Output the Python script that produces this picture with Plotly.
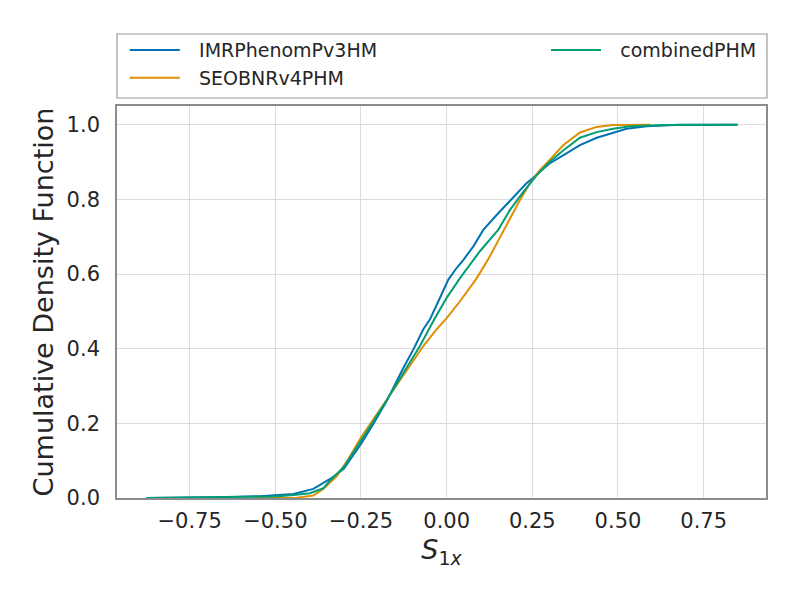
import plotly.graph_objects as go

# ----------------------------------------------------------
# CDF values
# ----------------------------------------------------------

imr_x = [-0.876, -0.75, -0.64, -0.544, -0.496, -0.447, -0.389, -0.34,
         -0.30, -0.25, -0.214, -0.175, -0.126, -0.097, -0.068, -0.049, -0.015,
         0.005, 0.029, 0.049, 0.078, 0.107, 0.146, 0.195, 0.233, 0.25, 0.272, 0.30,
         0.34, 0.389, 0.438, 0.486, 0.525, 0.584, 0.68, 0.849]
imr_cdf = [0.0, 0.001, 0.003, 0.005, 0.007, 0.011, 0.0245, 0.051,
           0.078, 0.145, 0.198, 0.26, 0.349, 0.398, 0.452, 0.478, 0.545,
           0.585, 0.616, 0.638, 0.674, 0.718, 0.758, 0.807, 0.843, 0.856, 0.874, 0.896,
           0.918, 0.945, 0.965, 0.978, 0.989, 0.996, 1.0, 1.0]

seob_x = [-0.56, -0.437, -0.389, -0.36, -0.321, -0.29, -0.25, -0.214, -0.175,
          -0.112, -0.068, -0.029, 0.0, 0.039, 0.088, 0.126, 0.15, 0.175, 0.214,
          0.243, 0.272, 0.30, 0.34, 0.389, 0.4375, 0.486, 0.594]
seob_cdf = [0.0, 0.001, 0.0067, 0.024, 0.058, 0.10, 0.162, 0.211, 0.264,
            0.349, 0.407, 0.452, 0.482, 0.527, 0.589, 0.647, 0.688, 0.732, 0.798,
            0.843, 0.878, 0.905, 0.945, 0.979, 0.994, 0.999, 1.0]

comb_x = [-0.876, -0.7, -0.6, -0.5, -0.447, -0.399, -0.36, -0.34, -0.30,
          -0.25, -0.214, -0.175, -0.117, -0.078, -0.034, 0.0, 0.039, 0.097,
          0.151, 0.185, 0.224, 0.263, 0.30, 0.34, 0.389, 0.4375, 0.486,
          0.535, 0.633, 0.849]
comb_cdf = [0.0, 0.001, 0.002, 0.004, 0.008, 0.013, 0.026, 0.047, 0.083,
            0.153, 0.205, 0.262, 0.349, 0.407, 0.482, 0.536, 0.589, 0.661,
            0.719, 0.772, 0.82, 0.865, 0.90, 0.931, 0.965, 0.980, 0.989,
            0.996, 0.999, 1.0]

x_ticks = [-0.75, -0.5, -0.25, 0.0, 0.25, 0.5, 0.75]
y_ticks = [0.0, 0.2, 0.4, 0.6, 0.8, 1.0]

FONT = "DejaVu Sans"
TEXT = "#262626"
PAD = "\u2002\u2005"   # gap between legend line and label

fig = go.Figure()

fig.add_trace(go.Scatter(x=imr_x, y=imr_cdf, mode="lines", name=PAD + "IMRPhenomPv3HM",
                         line=dict(color="#0173b2", width=2), legend="legend"))
fig.add_trace(go.Scatter(x=seob_x, y=seob_cdf, mode="lines", name=PAD + "SEOBNRv4PHM",
                         line=dict(color="#de8f05", width=2), legend="legend"))
fig.add_trace(go.Scatter(x=comb_x, y=comb_cdf, mode="lines", name=PAD + "combinedPHM",
                         line=dict(color="#029e73", width=2), legend="legend2"))

# legend frame spanning the axes width
fig.add_shape(type="rect", xref="paper", yref="paper",
              x0=0, x1=1.0015, y0=1.0204, y1=1.1837,
              line=dict(color="#999999", width=1.2), fillcolor="white", layer="below")

legend_style = dict(font=dict(family=FONT, size=19, color=TEXT),
                    bgcolor="rgba(0,0,0,0)", borderwidth=0,
                    yanchor="top", xanchor="left", itemwidth=50,
                    tracegroupgap=0)

fig.update_layout(
    width=800,
    height=600,
    paper_bgcolor="white",
    plot_bgcolor="white",
    # page body adds 8px, so the margins are shifted to compensate
    margin=dict(l=109, r=42, t=98, b=110),
    font=dict(family=FONT, color=TEXT),
    showlegend=True,
    legend=dict(x=0.012, y=1.191, **legend_style),
    legend2=dict(x=0.661, y=1.191, **legend_style),
    xaxis=dict(
        range=[-0.962, 0.932],
        tickvals=x_ticks,
        tickformat=".2f",
        tickfont=dict(size=21, color=TEXT),
        ticklabelstandoff=3,
        showgrid=True, gridcolor="#dcdcdc", gridwidth=1,
        zeroline=False,
        showline=True, mirror=True, linecolor="#8c8c8c", linewidth=1.6,
        ticks="",
        title=dict(text="<i>S</i><sub>1<i>x</i></sub>",
                   font=dict(size=27, color=TEXT), standoff=8),
    ),
    yaxis=dict(
        range=[0, 1.05],
        tickvals=y_ticks,
        tickformat=".1f",
        tickfont=dict(size=21, color=TEXT),
        ticklabelstandoff=11,
        showgrid=True, gridcolor="#dcdcdc", gridwidth=1,
        zeroline=False,
        showline=True, mirror=True, linecolor="#8c8c8c", linewidth=1.6,
        ticks="",
        title=dict(text="Cumulative Density Function",
                   font=dict(size=27, color=TEXT), standoff=5),
    ),
)

fig.write_html("out.html")
